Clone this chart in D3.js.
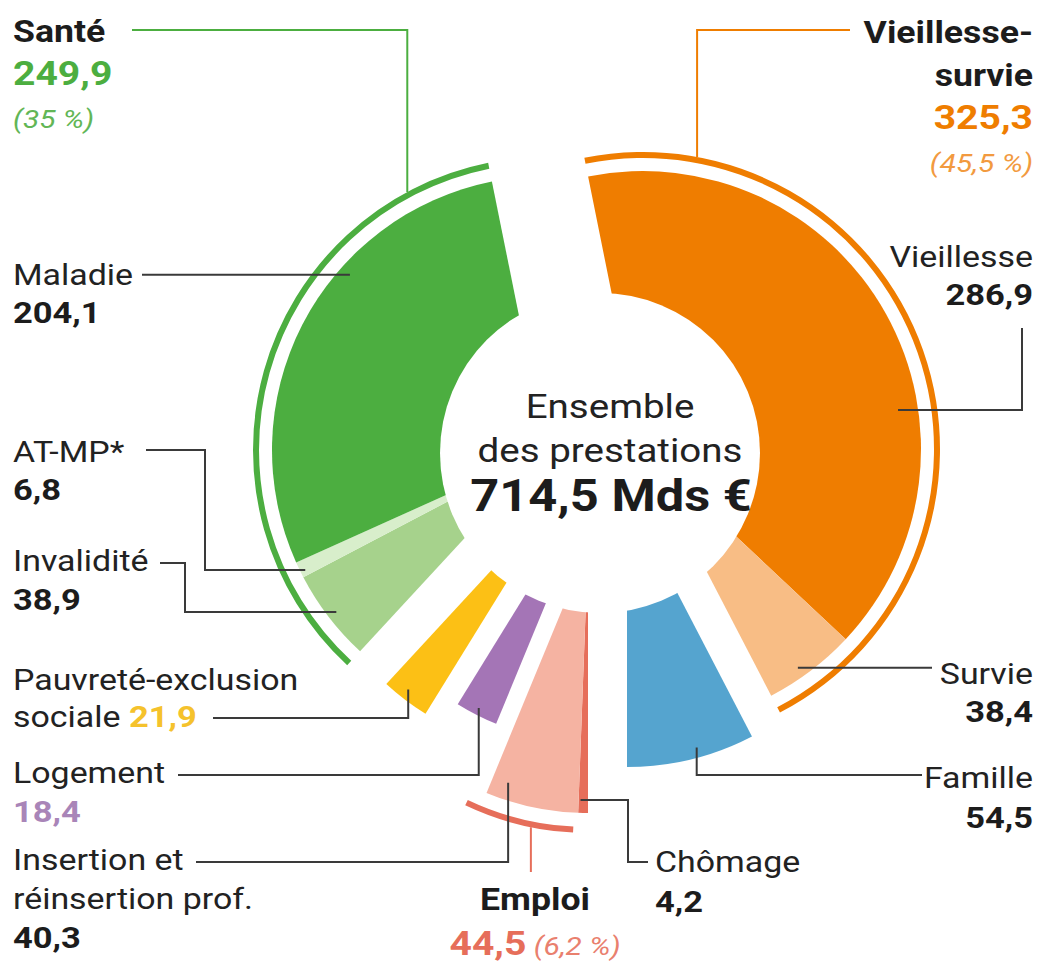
<!DOCTYPE html>
<html>
<head>
<meta charset="utf-8">
<script src="https://cdn.jsdelivr.net/npm/d3@7"></script>
<style>
  body { margin: 0; background: #fff; }
  svg { display: block; }
  text { font-family: Roboto, "Noto Sans", sans-serif; }
</style>
</head>
<body>
<svg id="chart" width="1047" height="967"></svg>
<script>
// Data (Mds €), clockwise from the top
const categories = ["Vieillesse", "Survie", "Famille", "Chômage", "Insertion et réinsertion prof.",
    "Logement", "Pauvreté-exclusion sociale", "Invalidité", "AT-MP*", "Maladie"];
const values = [286.9, 38.4, 54.5, 4.2, 40.3, 18.4, 21.9, 38.9, 6.8, 204.1];
const categoryGroup = ["Vieillesse-survie", "Vieillesse-survie", "Famille", "Emploi", "Emploi",
    "Logement", "Pauvreté", "Santé", "Santé", "Santé"];

const bracketGroups = ["Santé", "Vieillesse-survie", "Emploi"];
const bracketValues = [249.9, 325.3, 44.5];
const bracketShares = ["35 %", "45,5 %", "6,2 %"];

const centerLines = ["Ensemble", "des prestations"];
const totalValue = 714.5;

// Styles
const colors = {
    "Vieillesse": "#ef7d00",
    "Survie": "#f8bd85",
    "Famille": "#55a4cf",
    "Chômage": "#e66e5a",
    "Insertion et réinsertion prof.": "#f5b3a2",
    "Logement": "#a475b6",
    "Pauvreté-exclusion sociale": "#fcc015",
    "Invalidité": "#a6d28c",
    "AT-MP*": "#d8eecb",
    "Maladie": "#4cae40"
};
const groupColors = { "Santé": "#4cae40", "Vieillesse-survie": "#ef7d00", "Emploi": "#e66e5a" };
const shareColors = { "Santé": "#62b656", "Vieillesse-survie": "#f29a3f", "Emploi": "#e9806e" };
const valueColors = { "Logement": "#a985b8", "Pauvreté-exclusion sociale": "#f5c22c" };
const ink = "#1c1c1c";
const lineInk = "#3a3a3a";
const sx = 1.15; // the source font is wider than Roboto

// Layout
const hole = { x: 600, y: 453, r: 160 };
const groupLayout = {
    "Santé": { dx: -54, dy: -3, r: 274, bracket: 290, turn: 0 },
    "Vieillesse-survie": { dx: 43, dy: -4, r: 278, bracket: 294, turn: 0 },
    "Famille": { dx: 27, dy: 43, r: 271 },
    "Emploi": { dx: -12, dy: 94, r: 266, bracket: 283, turn: 3 },
    "Logement": { dx: -2, dy: 24, r: 267 },
    "Pauvreté": { dx: -40, dy: 43, r: 256 }
};

// leaders: anchor at fraction t of the slice span, radius r from the group apex, then h/v steps
const leaders = [
    { cat: "Maladie", t: 0.642, r: 263, steps: [["h", 142]] },
    { cat: "AT-MP*", t: 0.34, r: 269, steps: [["h", 205], ["v", 450], ["h", 146]] },
    { cat: "Invalidité", t: 0.488, r: 265, steps: [["h", 185], ["v", 563], ["h", 160]] },
    { cat: "Pauvreté-exclusion sociale", t: 0.58, r: 246, steps: [["v", 718], ["h", 213]] },
    { cat: "Logement", t: 0.526, r: 260, steps: [["v", 775], ["h", 178]] },
    { cat: "Insertion et réinsertion prof.", t: 0.817, r: 249, steps: [["v", 862], ["h", 196]] },
    { cat: "Chômage", t: 0.8, r: 253, steps: [["h", 628], ["v", 862], ["h", 648]] },
    { cat: "Famille", t: 0.436, r: 261, steps: [["v", 775], ["h", 922]] },
    { cat: "Survie", t: 0.595, r: 268, steps: [["h", 932]] },
    { cat: "Vieillesse", t: 0.641, r: 258, steps: [["h", 1022], ["v", 328]] }
];
const groupLeaders = [
    { group: "Santé", t: 0.866, steps: [["v", 30], ["h", 132]] },
    { group: "Vieillesse-survie", t: 0.1335, steps: [["v", 30], ["h", 850]] },
    { group: "Emploi", t: 0.38, steps: [["v", 872]] }
];

const catLabels = {
    "Maladie": { x: 13, y: 285, anchor: "start", lh: 38 },
    "AT-MP*": { x: 13, y: 462, anchor: "start", lh: 38 },
    "Invalidité": { x: 13, y: 571, anchor: "start", lh: 39 },
    "Pauvreté-exclusion sociale": { x: 13, y: 690, anchor: "start", lh: 37, breakAfter: 1, inline: true },
    "Logement": { x: 13, y: 783, anchor: "start", lh: 39 },
    "Insertion et réinsertion prof.": { x: 13, y: 870, anchor: "start", lh: 39, breakAfter: 2 },
    "Vieillesse": { x: 1033, y: 267, anchor: "end", lh: 38 },
    "Survie": { x: 1033, y: 684, anchor: "end", lh: 38 },
    "Famille": { x: 1033, y: 788, anchor: "end", lh: 40 },
    "Chômage": { x: 655, y: 872, anchor: "start", lh: 40 }
};
const groupLabels = {
    "Santé": { x: 13, y: 42, anchor: "start", lh: 43 },
    "Vieillesse-survie": { x: 1033, y: 43, anchor: "end", lh: 43 },
    "Emploi": { x: 535, y: 910, anchor: "middle", lh: 45, inline: true }
};

const fr = d3.formatLocale({ decimal: ",", thousands: " ", grouping: [3], currency: ["", " €"] });
const fmt = fr.format(".1f");

const svg = d3.select("#chart");

const rows = categories.map((name, i) => ({ name, value: values[i], group: categoryGroup[i] }));
const total = d3.sum(values);
// rotate so that Famille closes exactly at the bottom (180°)
const beforeBottom = d3.sum(values.slice(0, categories.indexOf("Famille") + 1));
const a0 = Math.PI - 2 * Math.PI * beforeBottom / total;

const slices = d3.pie().sort(null).value((d) => d.value)
    .startAngle(a0).endAngle(a0 + 2 * Math.PI)(rows);

function apexOf(group) {
    const g = groupLayout[group];
    return [hole.x + g.dx, hole.y + g.dy];
}
function polar(apex, angle, r) {
    return [apex[0] + r * Math.sin(angle), apex[1] - r * Math.cos(angle)];
}

// slices
svg.append("g")
    .selectAll("path")
    .data(slices)
    .join("path")
    .attr("transform", (d) => `translate(${apexOf(d.data.group)})`)
    .attr("d", (d) => d3.arc().innerRadius(0).outerRadius(groupLayout[d.data.group].r)(d))
    .attr("fill", (d) => colors[d.data.name]);

// central hole
svg.append("circle")
    .attr("cx", hole.x)
    .attr("cy", hole.y)
    .attr("r", hole.r)
    .attr("fill", "#fff");

// group spans (bracket spans can be turned a little)
const spans = {};
slices.forEach((d) => {
    const s = spans[d.data.group] || { start: Infinity, end: -Infinity };
    s.start = Math.min(s.start, d.startAngle);
    s.end = Math.max(s.end, d.endAngle);
    spans[d.data.group] = s;
});
function bracketSpan(g) {
    const turn = (groupLayout[g].turn || 0) * Math.PI / 180;
    return { start: spans[g].start + turn, end: spans[g].end + turn };
}

// brackets
svg.append("g")
    .selectAll("path")
    .data(bracketGroups)
    .join("path")
    .attr("transform", (g) => `translate(${apexOf(g)})`)
    .attr("d", (g) => d3.arc()
        .innerRadius(groupLayout[g].bracket - 3)
        .outerRadius(groupLayout[g].bracket + 3)
        .startAngle(bracketSpan(g).start)
        .endAngle(bracketSpan(g).end)())
    .attr("fill", (g) => groupColors[g]);

function leaderPath(start, steps) {
    const pts = [start];
    let [x, y] = start;
    steps.forEach(([dir, v]) => {
        if (dir === "h") x = v; else y = v;
        pts.push([x, y]);
    });
    return d3.line()(pts);
}

const leaderG = svg.append("g").attr("fill", "none").attr("stroke-width", 2);
leaders.forEach((l) => {
    const d = slices.find((s) => s.data.name === l.cat);
    const angle = d.startAngle + l.t * (d.endAngle - d.startAngle);
    const start = polar(apexOf(d.data.group), angle, l.r);
    leaderG.append("path").attr("d", leaderPath(start, l.steps)).attr("stroke", lineInk);
});
groupLeaders.forEach((l) => {
    const s = bracketSpan(l.group);
    const angle = s.start + l.t * (s.end - s.start);
    const start = polar(apexOf(l.group), angle, groupLayout[l.group].bracket + 3);
    leaderG.append("path").attr("d", leaderPath(start, l.steps)).attr("stroke", groupColors[l.group]);
});

// text helper: lines = [[{text, size, weight, style, fill}, ...], ...]
function addText(x, y, anchor, lh, lines) {
    const t = svg.append("text")
        .attr("transform", `translate(${x},${y}) scale(${sx},1)`)
        .attr("text-anchor", anchor);
    lines.forEach((segs, i) => {
        segs.forEach((s, j) => {
            const ts = t.append("tspan")
                .text(s.text)
                .attr("font-size", s.size)
                .attr("font-weight", s.weight || 400)
                .attr("font-style", s.style || "normal")
                .attr("fill", s.fill || ink);
            if (j === 0) ts.attr("x", 0).attr("y", i * lh);
        });
    });
    return t;
}

const nameStyle = { size: 29.5, fill: "#222" };
const numStyle = { size: 30, weight: 700 };

// category labels
rows.forEach((r) => {
    const L = catLabels[r.name];
    const words = r.name.split(" ");
    const nameLines = L.breakAfter
        ? [words.slice(0, L.breakAfter).join(" "), words.slice(L.breakAfter).join(" ")]
        : [r.name];
    const num = { ...numStyle, text: fmt(r.value), fill: valueColors[r.name] || ink };
    const lines = nameLines.map((n) => [{ ...nameStyle, text: n }]);
    if (L.inline) {
        lines[lines.length - 1][0].text += " ";
        lines[lines.length - 1].push(num);
    } else {
        lines.push([num]);
    }
    addText(L.x, L.y, L.anchor, L.lh, lines);
});

// group labels
bracketGroups.forEach((g, i) => {
    const L = groupLabels[g];
    const nameLines = g.split(/(?<=-)/).map((n) => [{ text: n, size: 31, weight: 700 }]);
    const num = { text: fmt(bracketValues[i]), size: 34, weight: 700, fill: groupColors[g] };
    const share = { text: `(${bracketShares[i]})`, size: 26, style: "italic", fill: shareColors[g] };
    const lines = L.inline
        ? [...nameLines, [num, { ...share, text: " " + share.text }]]
        : [...nameLines, [num], [share]];
    addText(L.x, L.y, L.anchor, L.lh, lines);
});

// centre
addText(610, 418, "middle", 44, centerLines.map((c) => [{ text: c, size: 33.5, fill: "#222" }]));
addText(611, 511, "middle", 0, [[{ text: `${fmt(totalValue)} Mds €`, size: 44, weight: 700 }]]);
</script>
</body>
</html>
